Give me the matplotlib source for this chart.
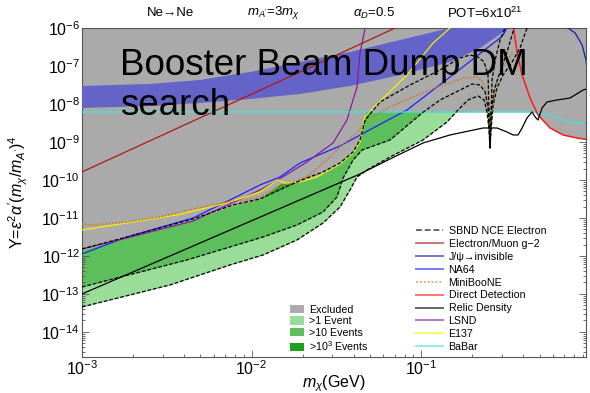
import numpy as np
import matplotlib.pyplot as plt
from matplotlib.lines import Line2D
from matplotlib.patches import Patch

plt.rcParams['font.family'] = ['Liberation Sans', 'DejaVu Sans']
plt.rcParams['mathtext.fontset'] = 'custom'
plt.rcParams['mathtext.rm'] = 'Liberation Sans'
plt.rcParams['mathtext.it'] = 'Liberation Sans:italic'
plt.rcParams['mathtext.bf'] = 'Liberation Sans:bold'

# curves, as log10(m_chi / GeV) and log10(Y)
# SBND NCE electron contours (1, 10, 1000 events)
sbnd1_lx = [-3.0, -2.481, -2.127, -1.932, -1.732, -1.578, -1.478, -1.419, -1.378, -1.319, -1.183,
            -0.988, -0.847, -0.782, -0.723, -0.664, -0.628, -0.611, -0.599, -0.593, -0.587, -0.575,
            -0.552, -0.516, -0.463, -0.416, -0.375]
sbnd1_ly = [-13.342, -12.763, -12.237, -11.974, -11.579, -11.132, -10.711, -10.263, -9.921, -9.737, -9.395,
            -8.947, -8.474, -8.158, -7.895, -7.789, -7.895, -8.211, -8.684, -9.158, -8.684, -8.026,
            -7.579, -7.237, -6.895, -6.526, -6.0]
sbnd10_lx = [-3.0, -2.381, -2.127, -1.932, -1.732, -1.578, -1.496, -1.460, -1.401, -1.348, -1.183,
             -0.994, -0.888, -0.770, -0.699, -0.652, -0.622, -0.605, -0.593, -0.587, -0.569, -0.534,
             -0.493, -0.451]
sbnd10_ly = [-12.816, -12.105, -11.763, -11.5, -11.184, -10.842, -10.447, -9.947, -9.474, -9.211, -8.947,
             -8.237, -7.895, -7.632, -7.474, -7.5, -7.684, -8.105, -9.158, -8.211, -7.632, -7.158,
             -6.632, -6.0]
sbnd1k_lx = [-3.0, -2.735, -2.345, -2.109, -1.950, -1.773, -1.673, -1.578, -1.478, -1.401, -1.360,
             -1.330, -1.242, -1.065, -0.888, -0.770, -0.711, -0.664, -0.628, -0.605, -0.593, -0.581,
             -0.563, -0.534, -0.504]
sbnd1k_ly = [-11.816, -11.5, -11.026, -10.658, -10.5, -10.132, -9.947, -9.789, -9.553, -9.263, -8.947,
             -8.421, -7.947, -7.5, -7.105, -6.789, -6.711, -6.763, -6.895, -7.237, -9.158, -7.368,
             -6.842, -6.316, -6.0]

# lower edge of the excluded (grey) region
excl_lx = [-3.0, -2.735, -2.345, -2.109, -1.950, -1.832, -1.714, -1.614, -1.478, -1.401, -1.360,
           -1.342, -1.324, -0.327, -0.310, -0.239, -0.162, -0.080, -0.003]
excl_ly = [-11.842, -11.526, -11.053, -10.684, -10.5, -10.105, -10.053, -9.921, -9.579, -9.289, -9.0,
           -8.553, -8.211, -8.211, -8.289, -8.632, -8.816, -8.895, -8.947]

# blue band
band_top_lx = [-3.0, -2.599, -2.304, -2.009, -1.714, -1.419, -1.124, -0.829, -0.498]
band_top_ly = [-7.526, -7.474, -7.368, -7.158, -6.895, -6.632, -6.316, -6.0, -6.0]
band_bot_lx = [-3.0, -2.599, -2.304, -2.009, -1.714, -1.419, -1.124, -0.829, -0.652, -0.516, -0.498]
band_bot_ly = [-8.105, -8.053, -7.974, -7.868, -7.737, -7.526, -7.237, -6.895, -6.526, -6.105, -6.0]

g2_lx = [-3.0, -1.714, -1.153]
g2_ly = [-9.789, -7.158, -6.0]
jpsi_lx = [-0.133, -0.091, -0.050, -0.027, -0.015, -0.003]
jpsi_ly = [-6.0, -6.132, -6.447, -6.842, -7.368, -7.895]
na64_lx = [-3.0, -2.735, -2.345, -2.127, -1.950, -1.832, -1.714, -1.478, -1.283, -1.083, -0.829,
           -0.534, -0.516, -0.493]
na64_ly = [-11.947, -11.5, -11.0, -10.526, -10.132, -9.921, -9.553, -9.105, -8.632, -8.158, -7.289,
           -6.263, -6.184, -6.0]
mb_lx = [-3.0, -2.935, -2.735, -2.540, -2.345, -2.145, -2.027, -1.950, -1.873, -1.673, -1.537,
         -1.478, -1.378, -1.319, -1.183, -1.047, -0.888, -0.829, -0.752, -0.670, -0.634, -0.611,
         -0.599, -0.593, -0.587, -0.575, -0.563, -0.534, -0.493, -0.457]
mb_ly = [-11.158, -11.184, -11.105, -10.974, -10.763, -10.579, -10.526, -10.447, -10.263, -9.921, -9.395,
         -9.132, -8.763, -8.421, -8.079, -7.816, -7.526, -7.447, -7.316, -7.289, -7.421, -7.763,
         -8.211, -8.553, -8.211, -7.895, -7.579, -7.158, -6.842, -6.658]
dd_lx = [-0.457, -0.434, -0.404, -0.357, -0.310, -0.239, -0.162, -0.080, -0.003]
dd_ly = [-5.921, -6.632, -7.237, -7.842, -8.289, -8.632, -8.816, -8.895, -8.947]
relic_lx = [-3.0, -1.360, -1.183, -0.988, -0.829, -0.634, -0.552, -0.493, -0.457, -0.428, -0.404,
            -0.375, -0.345, -0.327, -0.310, -0.286, -0.257, -0.198, -0.121, -0.044, -0.003]
relic_ly = [-13.0, -9.842, -9.447, -9.026, -8.816, -8.632, -8.632, -8.737, -8.816, -8.816, -8.632,
            -8.368, -8.211, -8.342, -8.421, -8.105, -7.947, -7.895, -7.842, -7.632, -7.579]
lsnd_lx = [-3.0, -2.735, -2.345, -1.950, -1.873, -1.673, -1.519, -1.437, -1.378, -1.360, -1.330]
lsnd_ly = [-11.816, -11.526, -11.079, -10.263, -10.079, -9.526, -9.026, -8.421, -7.553, -6.658, -6.0]
e137_lx = [-3.0, -2.735, -2.440, -2.145, -1.950, -1.844, -1.802, -1.714, -1.614, -1.478, -1.401,
           -1.360, -1.342, -1.330, -1.283, -1.083, -0.929, -0.829]
e137_ly = [-11.316, -11.132, -10.921, -10.605, -10.316, -10.0, -10.079, -10.053, -9.921, -9.579, -9.289,
           -9.0, -8.553, -8.342, -8.105, -7.237, -6.395, -6.0]
babar_lx = [-3.0, -1.714, -0.339, -0.239, -0.162, -0.080, -0.003]
babar_ly = [-8.211, -8.211, -8.211, -8.289, -8.421, -8.5, -8.474]

xtick_exps = [-3, -2, -1]
ytick_exps = [-14, -13, -12, -11, -10, -9, -8, -7, -6]


def pts(lx, ly):
    return 10 ** np.array(lx), 10 ** np.array(ly)


TOP = 1e-6
c_grey = '#aaaaaa'
c_g1 = '#99dd99'
c_g10 = '#5cbf5c'
c_g1k = '#1f9f1f'
c_band = '#6464c8'
c_g2 = '#b01818'
c_jpsi = '#1a1aa8'
c_na64 = '#2020ff'
c_mb = '#cc7a33'
c_dd = '#ff1a1a'
c_lsnd = '#8a1a9a'
c_e137 = '#f2f200'
c_babar = '#40e0e0'

fig = plt.figure(figsize=(5.9, 3.93), dpi=100)
ax = fig.add_axes([82 / 590, 1 - 357 / 393, 504 / 590, 329 / 393])
ax.set_xscale('log')
ax.set_yscale('log')

# event regions, each filled from its contour up to the top
for lx, ly, c in [(sbnd1_lx, sbnd1_ly, c_g1), (sbnd10_lx, sbnd10_ly, c_g10), (sbnd1k_lx, sbnd1k_ly, c_g1k)]:
    x, y = pts(lx, ly)
    ax.fill_between(x, y, TOP, color=c, lw=0, zorder=1)

# excluded region
x, y = pts(excl_lx, excl_ly)
ax.fill_between(x, y, TOP, color=c_grey, lw=0, zorder=2)

# blue band
xt, yt = pts(band_top_lx, band_top_ly)
xb, yb = pts(band_bot_lx, band_bot_ly)
ax.fill(np.concatenate([xt, xb[::-1]]), np.concatenate([yt, yb[::-1]]), color=c_band, lw=0, zorder=3)

lw = 0.9
ax.plot(*pts(g2_lx, g2_ly), color=c_g2, lw=lw, zorder=4)
ax.plot(*pts(jpsi_lx, jpsi_ly), color=c_jpsi, lw=lw, zorder=4)
ax.plot(*pts(na64_lx, na64_ly), color=c_na64, lw=lw, zorder=4)
ax.plot(*pts(lsnd_lx, lsnd_ly), color=c_lsnd, lw=lw, zorder=4)
ax.plot(*pts(e137_lx, e137_ly), color=c_e137, lw=lw, zorder=4)
ax.plot(*pts(babar_lx, babar_ly), color=c_babar, lw=lw, zorder=4)
ax.plot(*pts(dd_lx, dd_ly), color=c_dd, lw=1.1, zorder=4)
ax.plot(*pts(relic_lx, relic_ly), color='black', lw=lw, zorder=4)
ax.plot(*pts(mb_lx, mb_ly), color=c_mb, lw=1.2, ls=(0, (1, 1)), zorder=4)
for lx, ly in [(sbnd1_lx, sbnd1_ly), (sbnd10_lx, sbnd10_ly), (sbnd1k_lx, sbnd1k_ly)]:
    ax.plot(*pts(lx, ly), color='black', lw=lw, ls=(0, (3, 1.5)), zorder=4)

ax.set_xlim(1e-3, 10 ** -0.027)
ax.set_ylim(10 ** -14.66, TOP)

ax.set_xticks([10.0 ** e for e in xtick_exps], [f'$10^{{{e}}}$' for e in xtick_exps])
ax.set_yticks([10.0 ** e for e in ytick_exps], [f'$10^{{{e}}}$' for e in ytick_exps])
ax.yaxis.set_minor_locator(plt.LogLocator(base=10, subs=np.arange(2, 10), numticks=20))
ax.xaxis.set_minor_formatter(plt.NullFormatter())
ax.yaxis.set_minor_formatter(plt.NullFormatter())
ax.tick_params(which='both', direction='in', top=True, right=True, color='#555555',
               labelsize=11.5, width=0.6, pad=1.5)
ax.tick_params(which='major', length=5)
ax.tick_params(which='minor', length=2.5)
for s in ax.spines.values():
    s.set_color('#555555')
    s.set_linewidth(0.8)

ax.set_xlabel(r'$m_\chi$(GeV)', fontsize=11.5)
ax.xaxis.set_label_coords(0.5, -0.05)
ax.set_ylabel(r"Y=$\epsilon^2\alpha'(m_\chi/m_{A'})^4$", fontsize=11.5)
ax.yaxis.set_label_coords(-0.103, 0.5)

# header
hy = 1 - 13 / 393
fig.text(170 / 590, hy, 'Ne→Ne', ha='center', va='center', fontsize=9.5)
fig.text(273 / 590, hy, r"$m_{A'}$=3$m_\chi$", ha='center', va='center', fontsize=9.5)
fig.text(374 / 590, hy, r'$\alpha_D$=0.5', ha='center', va='center', fontsize=9.5)
fig.text(485 / 590, hy, r'POT=6x10$^{21}$', ha='center', va='center', fontsize=9.5)

# title overlay
fig.text(120 / 590, 1 - 75 / 393, 'Booster Beam Dump DM', fontsize=26.5, va='baseline', zorder=10)
fig.text(120 / 590, 1 - 115 / 393, 'search', fontsize=26.5, va='baseline', zorder=10)

# legends
line_items = [('SBND NCE Electron', 'black', (0, (3, 1.5))),
              ('Electron/Muon g−2', c_g2, '-'),
              ('J/ψ→invisible', c_jpsi, '-'),
              ('NA64', c_na64, '-'),
              ('MiniBooNE', c_mb, (0, (1, 1))),
              ('Direct Detection', c_dd, '-'),
              ('Relic Density', 'black', '-'),
              ('LSND', c_lsnd, '-'),
              ('E137', c_e137, '-'),
              ('BaBar', c_babar, '-')]
h1 = [Line2D([], [], color=c, ls=ls, lw=1.4, alpha=0.6) for _, c, ls in line_items]
leg1 = ax.legend(h1, [t for t, _, _ in line_items], loc='upper left',
                 bbox_to_anchor=(416 / 590, 1 - 226 / 393), bbox_transform=fig.transFigure,
                 frameon=False, fontsize=7.7, handlelength=2.5, handletextpad=0.55,
                 labelspacing=0.27, borderpad=0, borderaxespad=0)
ax.add_artist(leg1)

patch_items = [('Excluded', c_grey), ('>1 Event', c_g1), ('>10 Events', c_g10),
               (r'>10$^3$ Events', c_g1k)]
h2 = [Patch(facecolor=c, edgecolor='none') for _, c in patch_items]
ax.legend(h2, [t for t, _ in patch_items], loc='upper left',
          bbox_to_anchor=(290 / 590, 1 - 305 / 393), bbox_transform=fig.transFigure,
          frameon=False, fontsize=7.7, handlelength=1.35, handleheight=0.8, handletextpad=0.45,
          labelspacing=0.12, borderpad=0, borderaxespad=0)

fig.savefig('out.png', dpi=100)
